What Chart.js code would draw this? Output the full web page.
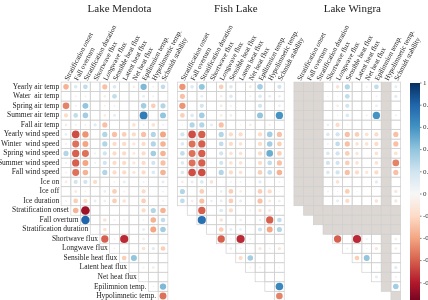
<!DOCTYPE html>
<html lang="en">
<head>
<meta charset="UTF-8">
<title>Correlation matrices</title>
<script src="https://cdn.jsdelivr.net/npm/chart.js@4/dist/chart.umd.min.js"></script>
<style>
  html, body { margin: 0; padding: 0; background: #fff; }
  #wrap { width: 428px; height: 300px; }
</style>
</head>
<body>
<div id="wrap"><canvas id="corrChart" width="428" height="300"></canvas></div>
<script>
// panel titles and variable names
const lakes = ['Lake Mendota', 'Fish Lake', 'Lake Wingra'];
const colLabels = ['Stratification onset', 'Fall overturn', 'Stratification duration', 'Shortwave flux',
  'Longwave flux', 'Sensible heat flux', 'Latent heat flux', 'Net heat flux', 'Epilimnion temp.',
  'Hypolimnetic temp.', 'Schmidt stability'];
const rowLabels = ['Yearly air temp', 'Water  air temp', 'Spring air temp', 'Summer air temp', 'Fall air temp',
  'Yearly wind speed', 'Winter  wind speed', 'Spring wind speed', 'Summer wind speed', 'Fall wind speed',
  'Ice on', 'Ice off', 'Ice duration', 'Stratification onset', 'Fall overturn', 'Stratification duration',
  'Shortwave flux', 'Longwave flux', 'Sensible heat flux', 'Latent heat flux', 'Net heat flux',
  'Epilimnion temp.', 'Hypolimnetic temp.', 'Schmidt stability'];
const colorbarTicks = [1, 0.8, 0.6, 0.4, 0.2, 0, -0.2, -0.4, -0.6, -0.8, -1];

// correlations, one row per variable; rows 13+ only hold the upper triangle (null = not available)
const mendota = [
  [-0.35, 0.15, 0.25, 0, -0.3, 0.15, 0, -0.08, 0.45, -0.05, 0.25],
  [0, 0.05, -0.05, 0, -0.08, 0.25, 0, 0, 0.1, 0.05, 0],
  [-0.5, 0.05, 0.4, 0, -0.05, 0.05, 0, 0, 0.35, -0.25, 0.3],
  [-0.2, 0.25, 0.35, 0, -0.08, 0.1, 0, 0, 0.7, 0, 0.4],
  [-0.08, 0.05, 0.05, 0.12, -0.3, 0, 0, -0.15, 0.05, -0.15, 0.05],
  [0.08, -0.65, -0.45, 0, 0.3, -0.3, -0.25, -0.2, -0.3, 0.3, -0.4],
  [0.05, -0.55, -0.4, 0, 0.3, -0.2, -0.2, -0.12, -0.2, 0.3, -0.35],
  [0.3, -0.6, -0.55, 0.05, 0.2, -0.2, -0.2, -0.1, -0.2, 0.35, -0.35],
  [0.05, -0.6, -0.4, 0.05, 0.2, -0.2, -0.2, -0.12, -0.2, 0.2, -0.3],
  [-0.05, -0.55, -0.35, 0, 0.3, -0.2, -0.2, -0.12, -0.2, 0.15, -0.35],
  [-0.08, 0.2, 0.2, -0.2, 0, -0.05, 0.1, 0, 0.05, 0, 0.1],
  [0, -0.1, -0.05, 0, 0.08, -0.25, -0.05, 0, -0.2, 0, 0.05],
  [0.05, -0.25, -0.2, 0.1, -0.08, -0.25, -0.15, 0, -0.25, 0, 0.05],
  [-0.35, -0.85, 0, 0, 0, 0, 0, -0.2, 0.3, -0.35],
  [0.8, 0, -0.15, -0.05, -0.05, 0, 0.05, -0.35, 0.25],
  [0, -0.15, 0, 0, 0, 0.1, -0.4, 0.35],
  [-0.6, -0.05, -0.75, 0, -0.08, 0, 0.03],
  [-0.05, 0.05, 0, -0.15, 0.12, -0.25],
  [-0.25, 0.4, 0, 0, 0],
  [0, -0.05, -0.08, 0],
  [0, 0, 0],
  [0.03, 0.45],
  [-0.55]
];
const fish = [
  [-0.45, 0.15, 0.4, 0, -0.25, 0.15, 0, -0.1, 0.35, 0, 0.2],
  [-0.3, 0, 0.1, 0, -0.08, 0.15, 0, -0.05, 0.15, 0.1, 0.08],
  [-0.45, 0, 0.2, 0, -0.1, 0.05, 0, 0, 0.2, 0, 0.08],
  [-0.25, 0.15, 0.35, 0, -0.08, 0.08, 0, 0, 0.4, 0, 0.6],
  [0.03, 0.3, 0.3, 0.1, -0.3, 0, -0.03, -0.08, 0, -0.05, 0],
  [0.2, -0.65, -0.6, 0, 0.3, -0.2, -0.2, 0, -0.2, 0.35, -0.3],
  [0.15, -0.55, -0.6, 0, 0.25, -0.2, -0.15, 0, -0.2, 0.35, -0.25],
  [0.25, -0.55, -0.6, 0, 0.2, -0.15, -0.15, 0, -0.2, 0.5, -0.25],
  [0.15, -0.55, -0.6, 0.03, 0.2, -0.15, -0.15, 0, -0.2, 0.25, -0.3],
  [0.15, -0.65, -0.65, 0, 0.3, -0.2, -0.15, 0, -0.25, 0.25, -0.35],
  [-0.08, 0.1, 0.15, -0.15, 0, 0.05, 0.05, 0, 0.12, 0, 0.05],
  [0.3, 0, -0.25, -0.03, 0.08, -0.25, -0.08, 0, -0.25, -0.2, -0.03],
  [0.25, -0.08, -0.3, 0.08, 0.1, -0.25, 0.1, 0, -0.3, -0.1, -0.08],
  [0, -0.6, 0, 0.15, -0.2, 0, 0.05, -0.15, -0.1, -0.05],
  [0.75, 0, -0.15, 0, 0.08, 0, 0.08, -0.6, 0.25],
  [0, -0.25, 0.1, 0.08, 0, 0.2, -0.4, 0.3],
  [-0.6, -0.03, -0.75, 0.05, 0, 0, 0],
  [0.08, 0.05, 0, -0.12, -0.05, -0.12],
  [-0.2, 0.35, 0, 0, 0],
  [-0.05, 0.05, 0, -0.03],
  [0, 0, 0],
  [0, 0.65],
  [-0.5]
];
const wingra = [
  [null, null, null, 0, -0.15, 0.3, 0, 0.05, 0.25, null, 0.1],
  [null, null, null, 0.03, 0.03, 0.25, 0, 0, 0.05, null, 0.12],
  [null, null, null, 0, -0.08, 0.2, 0, 0, 0.08, null, 0],
  [null, null, null, 0, 0.03, 0.15, 0, 0.05, 0.6, null, 0.05],
  [null, null, null, 0.08, -0.2, 0.03, 0, 0, 0, null, 0],
  [null, null, null, 0.15, 0.2, -0.3, -0.25, -0.15, -0.2, null, -0.3],
  [null, null, null, 0.05, 0.25, -0.3, -0.15, -0.15, -0.2, null, -0.3],
  [null, null, null, 0.15, 0.2, -0.25, -0.12, 0, -0.15, null, -0.15],
  [null, null, null, 0.2, 0.2, -0.25, -0.15, 0, -0.15, null, -0.5],
  [null, null, null, 0.15, 0.2, -0.3, -0.2, -0.12, -0.2, null, -0.3],
  [null, null, null, 0, -0.15, 0, 0, 0, 0.12, null, 0],
  [null, null, null, 0.05, 0.03, -0.25, 0.03, 0, 0, null, -0.12],
  [null, null, null, 0, 0.1, -0.2, 0, 0, -0.15, null, -0.12],
  [null, null, null, null, null, null, null, null, null, null],
  [null, null, null, null, null, null, null, null, null],
  [null, null, null, null, null, null, null, null],
  [-0.6, 0, -0.75, 0.05, 0, null, -0.08],
  [0.05, 0, 0.03, -0.12, null, -0.08],
  [-0.25, 0.4, 0, null, 0],
  [0, 0.03, null, 0.12],
  [0.1, null, 0.05],
  [null, 0.35],
  [null]
];

const panelOffsets = [0, 12, 24];
const panels = [mendota, fish, wingra];

// RdBu palette, -1 (red) .. 1 (blue)
const rdbuStops = ['#67001f', '#b2182b', '#d6604d', '#f4a582', '#fddbc7', '#f7f7f7',
  '#d1e5f0', '#92c5de', '#4393c3', '#2166ac', '#053061'];

function hexToRgb(h) {
  return [parseInt(h.slice(1, 3), 16), parseInt(h.slice(3, 5), 16), parseInt(h.slice(5, 7), 16)];
}

function rdbu(v) {
  const t = (Math.max(-1, Math.min(1, v)) + 1) / 2 * 10;
  const i = Math.min(9, Math.floor(t));
  const f = t - i;
  const a = hexToRgb(rdbuStops[i]), b = hexToRgb(rdbuStops[i + 1]);
  const c = a.map((x, k) => Math.round(x + (b[k] - x) * f));
  return 'rgb(' + c.join(',') + ')';
}

function firstCol(r) {
  return r < 13 ? 0 : r - 12;
}

function buildPoints(rows, offset) {
  const pts = [];
  rows.forEach((row, r) => {
    const start = firstCol(r);
    row.forEach((v, i) => {
      if (v !== null && v !== 0) pts.push({ x: offset + start + i, y: r, v: v });
    });
  });
  return pts;
}

const serif = '"Liberation Serif", "DejaVu Serif", serif';

// grid, labels, titles and colour bar
const matrixDecor = {
  id: 'matrixDecor',
  beforeDraw(chart) {
    const ctx = chart.ctx;
    ctx.save();
    ctx.fillStyle = '#ffffff';
    ctx.fillRect(0, 0, chart.width, chart.height);
    ctx.restore();
  },
  beforeDatasetsDraw(chart) {
    const ctx = chart.ctx;
    const xs = chart.scales.x, ys = chart.scales.y;
    const top = ys.getPixelForValue(-0.5);
    ctx.save();

    // cells
    ctx.lineWidth = 0.7;
    ctx.strokeStyle = '#cfcfcf';
    panels.forEach((rows, p) => {
      const off = panelOffsets[p];
      for (let r = 0; r < rows.length; r++) {
        const start = firstCol(r);
        for (let c = start; c < 11; c++) {
          const x0 = xs.getPixelForValue(off + c - 0.5), x1 = xs.getPixelForValue(off + c + 0.5);
          const y0 = ys.getPixelForValue(r - 0.5), y1 = ys.getPixelForValue(r + 0.5);
          if (rows[r][c - start] === null) {
            ctx.fillStyle = '#dcd7d3';
            ctx.fillRect(x0, y0, x1 - x0, y1 - y0);
          }
          ctx.strokeRect(x0, y0, x1 - x0, y1 - y0);
        }
      }
    });

    // column labels
    ctx.fillStyle = '#222';
    ctx.font = '7px ' + serif;
    ctx.textAlign = 'left';
    ctx.textBaseline = 'middle';
    panelOffsets.forEach(off => {
      colLabels.forEach((lab, c) => {
        ctx.save();
        ctx.translate(xs.getPixelForValue(off + c) + 0.5, top - 2);
        ctx.rotate(-62 * Math.PI / 180);
        ctx.fillText(lab, 0, 0);
        ctx.restore();
      });
    });

    // row labels (only left panel)
    ctx.textAlign = 'right';
    ctx.font = '7.5px ' + serif;
    rowLabels.forEach((lab, r) => {
      const x = xs.getPixelForValue(firstCol(r) - 0.5) - 2;
      ctx.fillText(lab, x, ys.getPixelForValue(r));
    });

    // titles
    ctx.textAlign = 'center';
    ctx.font = '11px ' + serif;
    panelOffsets.forEach((off, p) => {
      ctx.fillText(lakes[p], xs.getPixelForValue(off + 5) + 5, 9);
    });

    // colour bar
    const cbX = 410, cbW = 10, cbTop = 83, cbBot = 305;
    const grad = ctx.createLinearGradient(0, cbTop, 0, cbBot);
    rdbuStops.slice().reverse().forEach((col, i) => grad.addColorStop(i / 10, col));
    ctx.fillStyle = grad;
    ctx.fillRect(cbX, cbTop, cbW, cbBot - cbTop);
    ctx.fillStyle = '#333';
    ctx.strokeStyle = '#333';
    ctx.lineWidth = 0.6;
    ctx.textAlign = 'left';
    ctx.font = '7px ' + serif;
    colorbarTicks.forEach(t => {
      const y = cbTop + (1 - t) / 2 * (cbBot - cbTop);
      ctx.beginPath();
      ctx.moveTo(cbX + cbW, y);
      ctx.lineTo(cbX + cbW + 1.5, y);
      ctx.stroke();
      ctx.fillText(String(t), cbX + cbW + 3, y);
    });

    ctx.restore();
  }
};

function makeChart() {
  const ctx = document.getElementById('corrChart').getContext('2d');
  new Chart(ctx, {
    type: 'bubble',
    data: {
      datasets: panels.map((rows, p) => ({
        label: lakes[p],
        data: buildPoints(rows, panelOffsets[p]),
        clip: false,
        borderWidth: 0,
        radius: c => 4.7 * Math.sqrt(Math.abs(c.raw.v)),
        backgroundColor: c => rdbu(c.raw.v),
        borderColor: c => rdbu(c.raw.v)
      }))
    },
    options: {
      responsive: false,
      animation: false,
      events: [],
      devicePixelRatio: 1,
      layout: { padding: { left: 61.15, right: 27.35, top: 82.1, bottom: 0 } },
      plugins: { legend: { display: false }, tooltip: { enabled: false } },
      scales: {
        x: { type: 'linear', min: -0.5, max: 34.5, display: false },
        y: { type: 'linear', min: -0.5, max: 21.96, reverse: true, display: false }
      }
    },
    plugins: [matrixDecor]
  });
}

makeChart();
</script>
</body>
</html>
